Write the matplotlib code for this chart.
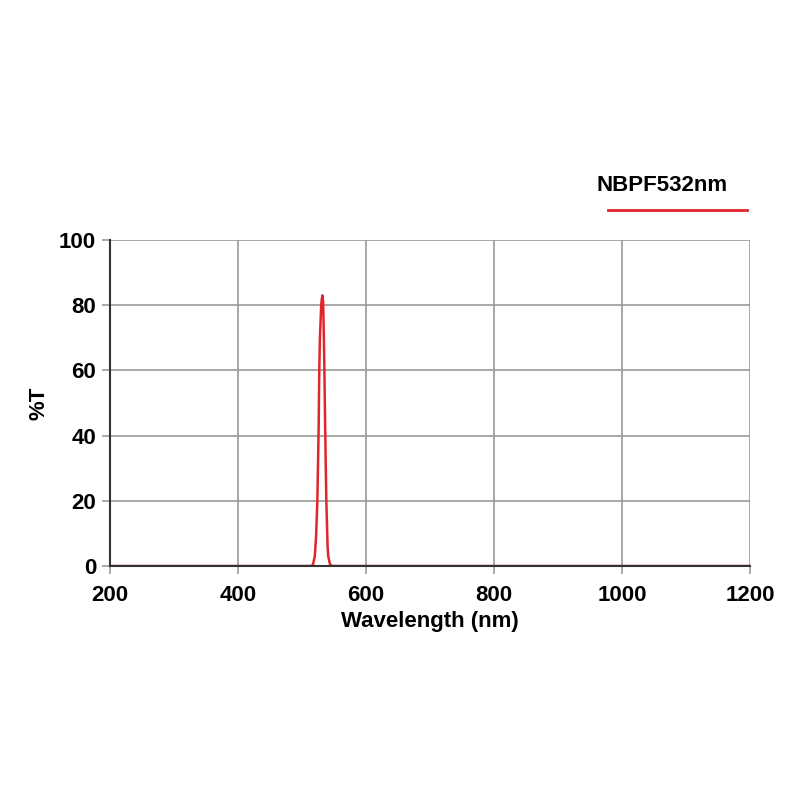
import matplotlib
matplotlib.use("Agg")
import matplotlib.pyplot as plt
import numpy as np

wavelength = [200, 300, 400, 500, 514, 517, 520, 522, 524, 526, 527, 528, 530, 531, 532, 533, 534, 535, 536, 538, 540, 541, 544, 548, 600, 800, 1000, 1200]
transmission = [0, 0, 0, 0, 0, 0.3, 3, 9, 20, 42, 60, 70, 80, 82, 83, 81, 72, 60, 45, 20, 6, 3, 0.3, 0, 0, 0, 0, 0]
xticks = [200, 400, 600, 800, 1000, 1200]
yticks = [0, 20, 40, 60, 80, 100]
series_name = "NBPF532nm"

plt.rcParams['font.family'] = ['Liberation Sans', 'DejaVu Sans']
fig = plt.figure(figsize=(8, 8), dpi=100)
ax = fig.add_axes([0.1375, 0.2925, 0.8, 0.4075])
line, = ax.plot(wavelength, transmission, color='#e0262c', linewidth=1.8)
ax.set_xlim(200, 1200)
ax.set_ylim(0, 100)
ax.set_xticks(xticks)
ax.set_yticks(yticks)
ax.grid(True, color='#9a9a9a', linewidth=1.2)
ax.set_axisbelow(True)
for s in ['top', 'right']:
    ax.spines[s].set_visible(False)
ax.spines['left'].set_color('#333333')
ax.spines['bottom'].set_color('#333333')
ax.spines['left'].set_linewidth(1.5)
ax.spines['bottom'].set_linewidth(1.5)
ax.tick_params(direction='out', length=6, color='#9a9a9a', width=1.2,
               labelsize=16)
ax.tick_params(axis='x', pad=8)
ax.tick_params(axis='y', pad=4)
for lab in ax.get_xticklabels() + ax.get_yticklabels():
    lab.set_fontweight('bold')
ax.set_xlabel('Wavelength (nm)', fontsize=16, fontweight='bold', labelpad=3)
ax.set_ylabel('%T', fontsize=16, fontweight='bold', labelpad=7)

# legend drawn in figure coords
fig.text(0.746, 0.768, series_name, fontsize=16, fontweight='bold', ha='left', va='center')
fig.add_artist(plt.Line2D([0.76, 0.934], [0.7375, 0.7375], color='#e0262c', linewidth=2))

fig.savefig('out.png', dpi=100, facecolor='white')
